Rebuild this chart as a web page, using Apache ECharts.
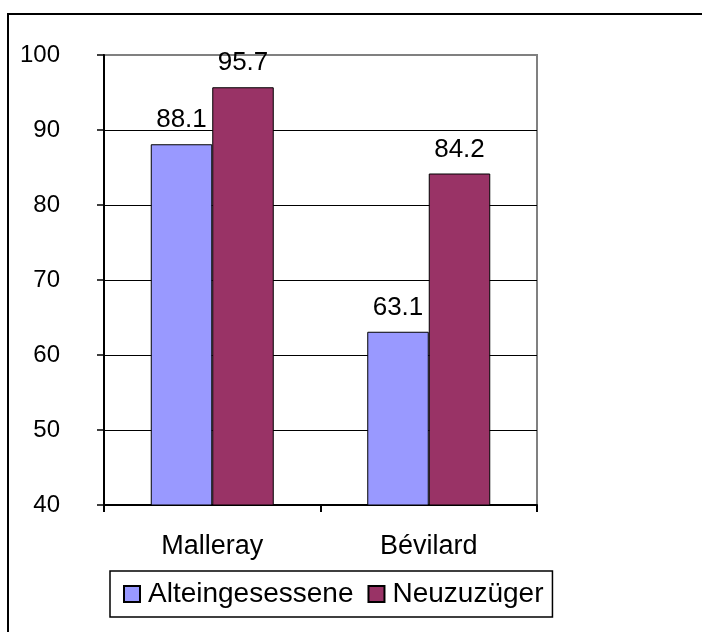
<!DOCTYPE html>
<html>
<head>
<meta charset="utf-8">
<script src="https://cdn.jsdelivr.net/npm/echarts@6/dist/echarts.min.js"></script>
<style>
  html, body { margin: 0; padding: 0; background: #fff; }
  #chart { width: 702px; height: 632px; }
</style>
</head>
<body>
<div id="chart"></div>
<script>
const categories = ["Malleray", "Bévilard"];
const alteingesessene = [88.1, 63.1];
const neuzuzueger = [95.7, 84.2];
const seriesNames = ["Alteingesessene", "Neuzuzüger"];

const font = "'Liberation Sans', Arial, sans-serif";
const chart = echarts.init(document.getElementById("chart"));

const labelStyle = {
  show: true,
  position: "top",
  distance: 11,
  color: "#000",
  fontFamily: font,
  fontSize: 26,
  formatter: (p) => p.value.toFixed(1),
};

const option = {
  animation: false,
  backgroundColor: "#fff",
  graphic: [
    {
      // outer frame (only top and left edges are in view)
      type: "rect",
      shape: { x: 8, y: 14, width: 800, height: 700 },
      style: { fill: "none", stroke: "#000", lineWidth: 2 },
      silent: true,
    },
  ],
  grid: {
    left: 104,
    right: 165,
    top: 55,
    bottom: 127,
    show: true,
    borderColor: "#808080",
    borderWidth: 2,
  },
  legend: {
    left: 110,
    top: 571,
    padding: [9, 9, 9, 13],
    borderColor: "#000",
    borderWidth: 1.5,
    itemWidth: 16,
    itemHeight: 16,
    itemGap: 14,
    icon: "rect",
    textStyle: {
      fontFamily: font,
      fontSize: 28,
      color: "#000",
      padding: [0, 0, 0, 3],
    },
    data: seriesNames,
  },
  xAxis: {
    type: "category",
    data: categories,
    axisLine: { lineStyle: { color: "#000", width: 2 } },
    axisTick: { show: true, length: 7, lineStyle: { color: "#000", width: 2 } },
    axisLabel: {
      color: "#000",
      fontFamily: font,
      fontSize: 27,
      margin: 28,
    },
  },
  yAxis: {
    type: "value",
    min: 40,
    max: 100,
    interval: 10,
    axisLine: { show: true, lineStyle: { color: "#000", width: 2 } },
    axisTick: { show: true, length: 7, lineStyle: { color: "#000", width: 1.5 } },
    axisLabel: {
      color: "#000",
      fontFamily: font,
      fontSize: 24,
      margin: 44,
    },
    splitLine: {
      show: true,
      showMaxLine: false,
      lineStyle: { color: "#000", width: 1 },
    },
  },
  series: [
    {
      name: seriesNames[0],
      type: "bar",
      data: alteingesessene,
      barWidth: 61.5,
      barGap: "0%",
      itemStyle: { color: "#9999FF", borderColor: "#000", borderWidth: 1 },
      label: labelStyle,
    },
    {
      name: seriesNames[1],
      type: "bar",
      data: neuzuzueger,
      barWidth: 61.5,
      barGap: "0%",
      itemStyle: { color: "#993366", borderColor: "#000", borderWidth: 1 },
      label: labelStyle,
    },
  ],
};

chart.setOption(option);
</script>
</body>
</html>
